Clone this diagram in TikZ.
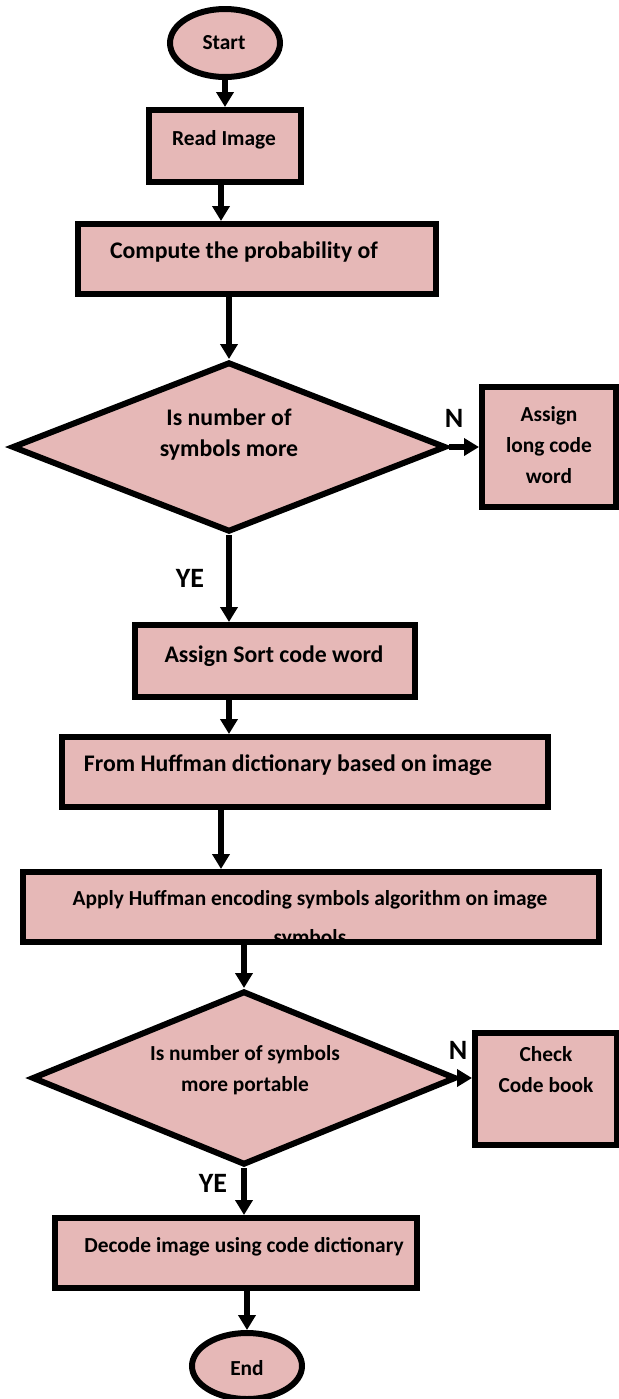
\documentclass[tikz,border=0pt]{standalone}
\usepackage{fontspec}
\setmainfont{Carlito}
\usepackage{tikz}
\usepackage{xcolor}
\usetikzlibrary{shapes.geometric, arrows.meta, positioning}

\definecolor{boxpink}{HTML}{E6B8B7}

\tikzset{
  flowbox/.style={rectangle, draw, line width=3pt, fill=boxpink, inner sep=0pt},
  termnode/.style={ellipse, draw, line width=3pt, fill=boxpink, inner sep=0pt},
  decnode/.style={diamond, draw, line width=3pt, fill=boxpink, inner sep=0pt},
  txt/.style={font=\bfseries\fontsize{11.9}{15.5}\selectfont, align=center, inner sep=0pt},
  smalltxt/.style={font=\bfseries\fontsize{10.7}{15.5}\selectfont, align=center, inner sep=0pt},
  yn/.style={font=\bfseries\fontsize{14}{16}\selectfont, inner sep=0pt},
  arr/.style={line width=3pt, -{Triangle[length=7.5pt,width=8.5pt]}}
}

\begin{document}
\begin{tikzpicture}[x=0.5pt, y=-0.5pt]
        \useasboundingbox (0, 0) rectangle (618, 1399);

        \node[termnode, minimum width=55pt, minimum height=34pt] (start) at (225, 43) {};
        \node[flowbox, minimum width=76pt, minimum height=36pt] (read) at (225, 146) {};
        \node[flowbox, minimum width=179pt, minimum height=35pt] (compute) at (257, 259) {};
        \node[decnode, minimum width=217pt, minimum height=85pt] (dec1) at (229, 447) {};
        \node[flowbox, minimum width=67pt, minimum height=60pt] (longcw) at (549, 447) {};
        \node[flowbox, minimum width=140pt, minimum height=36pt] (sortcw) at (275, 661) {};
        \node[flowbox, minimum width=243pt, minimum height=35pt] (huff) at (305, 772) {};
        \node[flowbox, minimum width=288pt, minimum height=35pt] (apply) at (311, 907) {};
        \node[decnode, minimum width=212pt, minimum height=87pt] (dec2) at (244, 1078) {};
        \node[flowbox, minimum width=71pt, minimum height=56pt] (check) at (546, 1089) {};
        \node[flowbox, minimum width=181pt, minimum height=35pt] (decode) at (236, 1253) {};
        \node[termnode, minimum width=55pt, minimum height=33pt] (end) at (247, 1366) {};

        \node[smalltxt] (startT) at (224, 43) {Start};
        \node[smalltxt] (readT) at (224, 140) {Read Image};
        \node[txt] (computeT) at (244, 252) {Compute the probability of};
        \node[txt] (dec1T) at (229, 435) {Is number of\\symbols more};
        \node[smalltxt] (longcwT) at (549, 445) {Assign\\long code\\word};
        \node[txt] (sortcwT) at (274, 656) {Assign Sort code word};
        \node[txt] (huffT) at (288, 765) {From Huffman dictionary based on image};
        \node[smalltxt] (applyT) at (310, 900) {Apply Huffman encoding symbols algorithm on image};
        \begin{scope}
            \clip ([shift={(3pt,3pt)}]apply.south west) rectangle ([shift={(-3pt,-3pt)}]apply.north east);
            \node[smalltxt, anchor=base] (applyT2) at (310, 944) {symbols};
        \end{scope}
        \node[smalltxt] (dec2T) at (245, 1070) {Is number of symbols\\more portable};
        \node[smalltxt] (checkT) at (546, 1070) {Check\\Code book};
        \node[smalltxt] (decodeT) at (244, 1247) {Decode image using code dictionary};
        \node[smalltxt] (endT) at (247, 1368) {End};

        \node[yn] (n1) at (454, 418) {N};
        \node[yn] (ye1) at (190, 578) {YE};
        \node[yn] (n2) at (458, 1050) {N};
        \node[yn] (ye2) at (213, 1183) {YE};

        \draw[arr] (start) -- (read);
        \draw[arr] ([xshift=-2pt]read.south) -- ([xshift=-2pt]read.south |- compute.north);
        \draw[arr] (dec1.north |- compute.south) -- (dec1.north);
        \draw[arr] (dec1.east) -- (longcw.west);
        \draw[arr] (dec1.south) -- (dec1.south |- sortcw.north);
        \draw[arr] (dec1.south |- sortcw.south) -- (dec1.south |- huff.north);
        \draw[arr] ([xshift=-4pt]dec1.south |- huff.south) -- ([xshift=-4pt]dec1.south |- apply.north);
        \draw[arr] (dec2.north |- apply.south) -- (dec2.north);
        \draw[arr] (dec2.east) -- (dec2.east -| check.west);
        \draw[arr] (dec2.south) -- (dec2.south |- decode.north);
        \draw[arr] (decode.south -| end.north) -- (end.north);
    \end{tikzpicture}
\end{document}
